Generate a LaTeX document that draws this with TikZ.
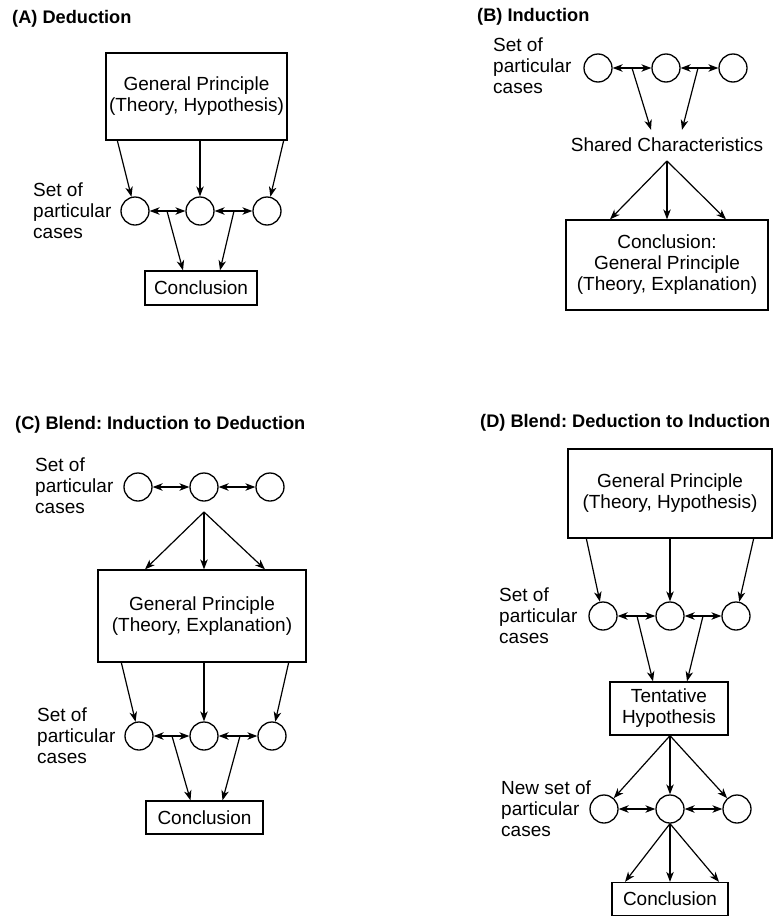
\documentclass[tikz,border=0pt]{standalone}
\usepackage{fontspec}
\setmainfont{Liberation Sans}
\usetikzlibrary{arrows.meta,calc}
\frenchspacing
\begin{document}
\frenchspacing
\begin{tikzpicture}[x=1pt,y=-1pt,
  every node/.style={font=\fontsize{19}{21}\selectfont},
  lbl/.style={align=left, anchor=west, inner sep=0pt},
  ttl/.style={anchor=base west, inner sep=0pt, font=\fontsize{18.2}{21}\selectfont\bfseries},
  box/.style={draw, line width=1.3pt, align=center, inner sep=2pt},
  circ/.style={draw, circle, line width=1.3pt, minimum size=28pt, inner sep=0pt},
  tip/.tip={Stealth[length=10pt,width=7.5pt,inset=3pt]},
  arr/.style={line width=1.2pt, -tip},
  darr/.style={line width=1.2pt, tip-tip},
]
\useasboundingbox (0,0) rectangle (774,916);

% ---------- (A) Deduction ----------
\node[ttl] (tA) at (12,23) {(A) Deduction};
\node[box, minimum width=181pt, minimum height=87pt] (gA) at (196.5,96.5) {General Principle\\(Theory, Hypothesis)};
\node[circ] (a1) at (135,211) {};
\node[circ] (a2) at (200,211) {};
\node[circ] (a3) at (267,211) {};
\node[lbl] (sA) at (33,211) {Set of\\particular\\cases};
\node[box, minimum width=112pt, minimum height=34pt] (cA) at (201,288) {Conclusion};
\draw[arr] ([xshift=12pt]gA.south west) -- (a1);
\draw[arr] (gA.south -| a2) -- (a2);
\draw[arr] ([xshift=-4pt]gA.south east) -- (a3);
\draw[darr] (a1) -- (a2);
\draw[darr] (a2) -- (a3);
\coordinate (a12) at (167,211);
\coordinate (a23) at (234,211);
\draw[arr] (a12) -- ([xshift=-18pt]cA.north);
\draw[arr] (a23) -- ([xshift=19pt]cA.north);

% ---------- (B) Induction ----------
\node[ttl] (tB) at (477,21) {(B) Induction};
\node[lbl] (sB) at (493,66) {Set of\\particular\\cases};
\node[circ] (b1) at (598,68) {};
\node[circ] (b2) at (666,68) {};
\node[circ] (b3) at (733,68) {};
\draw[darr] (b1) -- (b2);
\draw[darr] (b2) -- (b3);
\coordinate (b12) at (632,68);
\coordinate (b23) at (698,68);
\node[inner sep=2pt] (sc) at (667,145) {Shared Characteristics};
\draw[arr] (b12) -- ([xshift=-16pt,yshift=6pt]sc.north);
\draw[arr] (b23) -- ([xshift=15pt,yshift=6pt]sc.north);
\node[box, minimum width=202pt, minimum height=90pt] (gB) at (667,265) {Conclusion:\\General Principle\\(Theory, Explanation)};
\coordinate (scb) at (667,161);
\draw[arr] (scb) -- ([xshift=-57pt]gB.north);
\draw[arr] (scb) -- (gB.north);
\draw[arr] (scb) -- ([xshift=59pt]gB.north);

% ---------- (C) Blend: Induction to Deduction ----------
\node[ttl] (tC) at (15,429) {(C) Blend: Induction to Deduction};
\node[lbl] (sC1) at (35,486) {Set of\\particular\\cases};
\node[circ] (c1) at (138,487) {};
\node[circ] (c2) at (204,487) {};
\node[circ] (c3) at (270,487) {};
\draw[darr] (c1) -- (c2);
\draw[darr] (c2) -- (c3);
\coordinate (c2b) at (204,512);
\node[box, minimum width=208pt, minimum height=92pt] (gC) at (202,616) {General Principle\\(Theory, Explanation)};
\draw[arr] (c2b) -- ([xshift=-57pt]gC.north);
\draw[arr] (c2b) -- (gC.north -| c2b);
\draw[arr] (c2b) -- ([xshift=63pt]gC.north);
\node[circ] (cl1) at (139,736) {};
\node[circ] (cl2) at (204,736) {};
\node[circ] (cl3) at (272,736) {};
\node[lbl] (sC2) at (37,736) {Set of\\particular\\cases};
\draw[arr] ([xshift=24pt]gC.south west) -- (cl1);
\draw[arr] (gC.south -| cl2) -- (cl2);
\draw[arr] ([xshift=-18pt]gC.south east) -- (cl3);
\draw[darr] (cl1) -- (cl2);
\draw[darr] (cl2) -- (cl3);
\coordinate (cl12) at (172,736);
\coordinate (cl23) at (240,736);
\node[box, minimum width=117pt, minimum height=33pt] (cC) at (204.5,817.5) {Conclusion};
\draw[arr] (cl12) -- ([xshift=-14pt]cC.north);
\draw[arr] (cl23) -- ([xshift=18pt]cC.north);

% ---------- (D) Blend: Deduction to Induction ----------
\node[ttl] (tD) at (480,427) {(D) Blend: Deduction to Induction};
\node[box, minimum width=204pt, minimum height=89pt] (gD) at (670,493.5) {General Principle\\(Theory, Hypothesis)};
\node[circ] (d1) at (603,616) {};
\node[circ] (d2) at (670,616) {};
\node[circ] (d3) at (736,616) {};
\node[lbl] (sD1) at (499,616) {Set of\\particular\\cases};
\draw[arr] ([xshift=19pt]gD.south west) -- (d1);
\draw[arr] (gD.south -| d2) -- (d2);
\draw[arr] ([xshift=-19pt]gD.south east) -- (d3);
\draw[darr] (d1) -- (d2);
\draw[darr] (d2) -- (d3);
\coordinate (d12) at (637,616);
\coordinate (d23) at (703,616);
\node[box, minimum width=118pt, minimum height=53pt] (tH) at (669,708.5) {Tentative\\Hypothesis};
\draw[arr] (d12) -- ([xshift=-16pt]tH.north);
\draw[arr] (d23) -- ([xshift=18pt]tH.north);
\node[circ] (n1) at (604,809) {};
\node[circ] (n2) at (670,809) {};
\node[circ] (n3) at (737,809) {};
\node[lbl] (sD2) at (501,809) {New set of\\particular\\cases};
\draw[arr] (tH.south -| n2) -- (n1);
\draw[arr] (tH.south -| n2) -- (n2);
\draw[arr] (tH.south -| n2) -- (n3);
\draw[darr] (n1) -- (n2);
\draw[darr] (n2) -- (n3);
\node[box, minimum width=116pt, minimum height=33pt] (cD) at (670,899) {Conclusion};
\draw[arr] (n2.south) -- ([xshift=-45pt]cD.north);
\draw[arr] (n2.south) -- (cD.north);
\draw[arr] (n2.south) -- ([xshift=49pt]cD.north);
\end{tikzpicture}
\end{document}
